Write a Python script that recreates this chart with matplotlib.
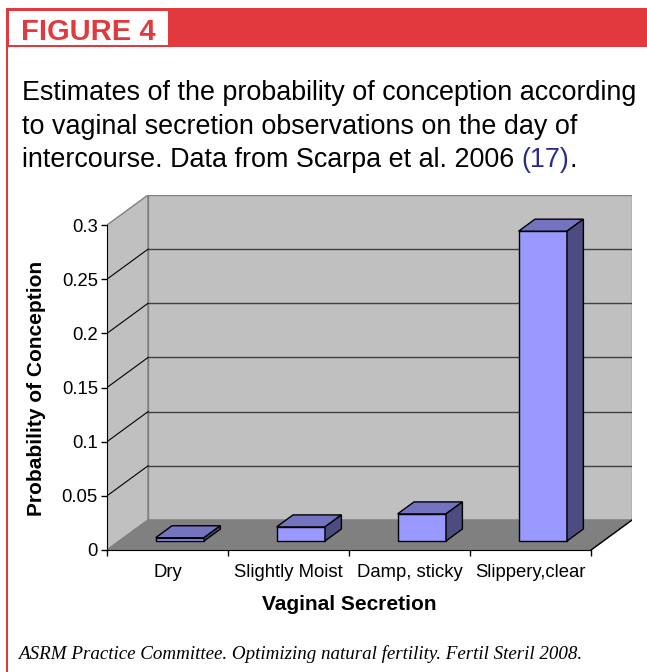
import matplotlib
matplotlib.use('Agg')
import matplotlib.pyplot as plt
from matplotlib.patches import Polygon, Rectangle
import numpy as np

# data
categories = ['Dry', 'Slightly Moist', 'Damp, sticky', 'Slippery,clear']
probability = [0.003, 0.013, 0.025, 0.286]
y_ticks = [0, 0.05, 0.1, 0.15, 0.2, 0.25, 0.3]
y_tick_labels = ['0', '0.05', '0.1', '0.15', '0.2', '0.25', '0.3']

title_lines = ['Estimates of the probability of conception according',
               'to vaginal secretion observations on the day of',
               'intercourse. Data from Scarpa et al. 2006 ']
ref_text = '(17)'
source = 'ASRM Practice Committee. Optimizing natural fertility. Fertil Steril 2008.'

W, H = 647, 672
RED = '#e1393e'
DX, DY = 0.339, 0.0277   # depth of the fake 3d box, in data units
BAR_W = 0.4
Z0, Z1 = 0.3, 0.7        # bar front / back inside the depth

def fx(px):
    return px / W

def fy(py):
    return 1 - py / H

plt.rcParams['font.family'] = ['Liberation Sans', 'DejaVu Sans']
fig = plt.figure(figsize=(W / 100, H / 100), dpi=100)

# red frame
fig.patches.append(Rectangle((fx(6), fy(47)), 1 - fx(6), 39 / H, transform=fig.transFigure,
                             fc=RED, ec='none'))
fig.patches.append(Rectangle((fx(6), 0), 2 / W, fy(8), transform=fig.transFigure,
                             fc=RED, ec='none'))
fig.patches.append(Rectangle((fx(9), fy(45)), 159 / W, 34 / H, transform=fig.transFigure,
                             fc='white', ec='none'))
fig.text(fx(21), fy(40), 'FIGURE 4', color=RED, fontsize=21, weight='bold',
         family=['Liberation Sans'], va='baseline')

# title
baselines = [100, 134, 167]
t = None
for line, b in zip(title_lines, baselines):
    t = fig.text(fx(22), fy(b), line, fontsize=19.4, va='baseline')
fig.canvas.draw()
bb = t.get_window_extent()
t2 = fig.text(bb.x1 / W, fy(167), ref_text, fontsize=19.4, va='baseline', color='#2b2b8c')
fig.canvas.draw()
bb2 = t2.get_window_extent()
fig.text(bb2.x1 / W, fy(167), '.', fontsize=19.4, va='baseline')

fig.text(fx(18), fy(659), source, fontsize=13.7, style='italic',
         family=['Liberation Serif', 'DejaVu Serif'], va='baseline')

# chart
ax = fig.add_axes([fx(107), fy(550), 525 / W, 355 / H])
ax.set_xlim(0, len(categories) + DX)
ax.set_ylim(0, y_ticks[-1] + DY)
ax.patch.set_visible(False)
n = len(categories)
ymax = y_ticks[-1]

ax.add_patch(Polygon([(0, 0), (DX, DY), (DX, ymax + DY), (0, ymax)],
                     fc='#c0c0c0', ec='#808080', lw=1))
ax.add_patch(Rectangle((DX, DY), n, ymax, fc='#c0c0c0', ec='#808080', lw=1))
for v in y_ticks[1:-1]:
    ax.plot([DX, n + DX], [v + DY, v + DY], color='#404040', lw=1)
    ax.plot([0, DX], [v, v + DY], color='black', lw=0.8)
ax.add_patch(Polygon([(0, 0), (n, 0), (n + DX, DY), (DX, DY)],
                     fc='#808080', ec='#808080', lw=1))
ax.plot([n, n + DX], [0, DY], color='black', lw=1)

d = Z1 - Z0
for i, v in enumerate(probability):
    x0 = i + (1 - BAR_W) / 2 + Z0 * DX
    b = Z0 * DY
    ax.add_patch(Rectangle((x0, b), BAR_W, v, fc='#9999ff', ec='black', lw=1, zorder=3))
    ax.add_patch(Polygon([(x0, b + v), (x0 + BAR_W, b + v),
                          (x0 + BAR_W + d * DX, b + v + d * DY), (x0 + d * DX, b + v + d * DY)],
                         fc='#7373bf', ec='black', lw=1, zorder=3))
    ax.add_patch(Polygon([(x0 + BAR_W, b), (x0 + BAR_W + d * DX, b + d * DY),
                          (x0 + BAR_W + d * DX, b + v + d * DY), (x0 + BAR_W, b + v)],
                         fc='#4c4c80', ec='black', lw=1, zorder=3))

ax.spines['top'].set_visible(False)
ax.spines['right'].set_visible(False)
ax.spines['left'].set_bounds(0, ymax)
ax.spines['bottom'].set_bounds(0, n)
ax.set_yticks(y_ticks, y_tick_labels)
ax.set_xticks(range(n + 1))
ax.set_xticklabels([])
ax.set_xticks(np.arange(n) + 0.5, minor=True)
ax.set_xticklabels(categories, minor=True)
ax.tick_params(axis='y', length=4.5, width=1, pad=2, labelsize=13.3)
ax.tick_params(axis='x', which='major', length=4.5, width=1)
ax.tick_params(axis='x', which='minor', length=0, pad=10, labelsize=13.3)

fig.text(fx(349), fy(604), 'Vaginal Secretion', fontsize=15, weight='bold', ha='center', va='center')
fig.text(fx(37), fy(388), 'Probability of Conception', fontsize=15, weight='bold',
         ha='center', va='center', rotation=90)

fig.savefig('out.png', dpi=100)
